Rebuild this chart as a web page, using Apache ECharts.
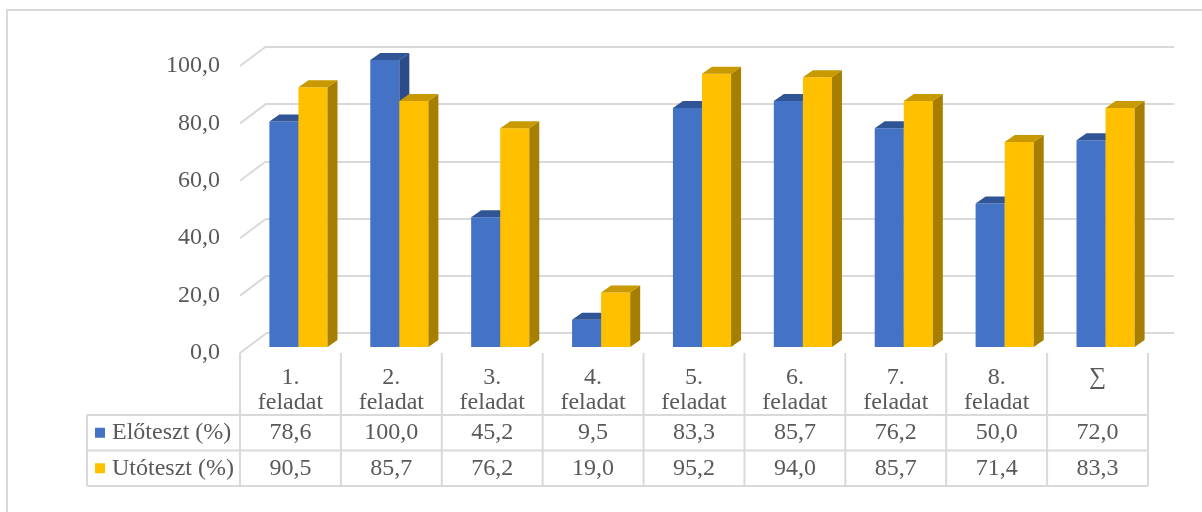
<!DOCTYPE html>
<html>
<head>
<meta charset="utf-8">
<script src="https://cdn.jsdelivr.net/npm/echarts@6/dist/echarts.min.js"></script>
<style>
html, body { margin: 0; padding: 0; background: #fff; }
#main { width: 1202px; height: 512px; }
</style>
</head>
<body>
<div id="main"></div>
<script>
// adatok
var CATEGORIES = ['1. feladat', '2. feladat', '3. feladat', '4. feladat', '5. feladat',
                  '6. feladat', '7. feladat', '8. feladat', '∑'];
var SERIES_NAMES = ['Előteszt (%)', 'Utóteszt (%)'];
var PRE = [78.6, 100.0, 45.2, 9.5, 83.3, 85.7, 76.2, 50.0, 72.0];
var POST = [90.5, 85.7, 76.2, 19.0, 95.2, 94.0, 85.7, 71.4, 83.3];
var Y_TICKS = [0, 20, 40, 60, 80, 100];

var TEXT_COLOR = '#595959';
var LINE_COLOR = '#d9d9d9';
var FONT = '"Liberation Serif", "Times New Roman", serif';
var COLORS = [
    ['#4472C4', '#2F5597', '#2B4C88'],
    ['#FFC000', '#C99A00', '#A67F00']
];

// 3D eltolások
var WALL_DX = 26, WALL_DY = -19.5;
var BAR_SHIFT_X = 8, BAR_SHIFT_Y = -6;
var DEPTH_DX = 10, DEPTH_DY = -7;

function fmt(v) {
    return v.toFixed(1).replace('.', ',');
}

function barRender(k) {
    var c = COLORS[k];
    return function (params, api) {
        var i = api.value(0), v = api.value(1);
        var top = api.coord([i, v]);
        var base = api.coord([i, 0]);
        var band = api.size([1, 0])[0];
        var w = band * 0.288;
        var x0 = top[0] - w + k * w + BAR_SHIFT_X;
        var x1 = x0 + w;
        var yt = top[1] + BAR_SHIFT_Y, yb = base[1] + BAR_SHIFT_Y;
        return {
            type: 'group',
            children: [
                {type: 'rect', shape: {x: x0, y: yt, width: w, height: yb - yt}, style: {fill: c[0]}},
                {type: 'polygon', shape: {points: [[x0, yt], [x0 + DEPTH_DX, yt + DEPTH_DY], [x1 + DEPTH_DX, yt + DEPTH_DY], [x1, yt]]}, style: {fill: c[1]}},
                {type: 'polygon', shape: {points: [[x1, yt], [x1 + DEPTH_DX, yt + DEPTH_DY], [x1 + DEPTH_DX, yb + DEPTH_DY], [x1, yb]]}, style: {fill: c[2]}}
            ]
        };
    };
}

window.addEventListener('load', function () {
    var chart = echarts.init(document.getElementById('main'));

    var option = {
        animation: false,
        grid: [
            {left: 240, right: 54, top: 66, bottom: 159},   // elülső sík
            {left: 266, right: 28, top: 47, bottom: 179}    // hátsó fal
        ],
        xAxis: [
            {
                type: 'category', gridIndex: 0, data: CATEGORIES,
                axisLine: {show: false}, axisTick: {show: false},
                axisLabel: {
                    color: TEXT_COLOR, fontFamily: FONT, fontSize: 24,
                    lineHeight: 25, margin: 12, verticalAlign: 'top',
                    formatter: function (s) { return s.replace(' ', '\n'); }
                }
            },
            {type: 'value', gridIndex: 1, min: 0, max: 1, show: false}
        ],
        yAxis: [
            {
                type: 'value', gridIndex: 0, min: 0, max: 100, interval: 20,
                axisLine: {show: false}, axisTick: {show: false}, splitLine: {show: false},
                axisLabel: {color: TEXT_COLOR, fontFamily: FONT, fontSize: 24, margin: 20, formatter: fmt}
            },
            {
                type: 'value', gridIndex: 1, min: 0, max: 100, interval: 20,
                axisLine: {show: false}, axisTick: {show: false}, axisLabel: {show: false},
                splitLine: {lineStyle: {color: LINE_COLOR, width: 2}}
            }
        ],
        series: [
            {
                // bal oldali ferde rácsvonalak
                type: 'custom', xAxisIndex: 0, yAxisIndex: 0, silent: true, z: 1,
                data: Y_TICKS.map(function (t) { return [0, t]; }),
                renderItem: function (params, api) {
                    var p = api.coord([0, api.value(1)]);
                    var x = params.coordSys.x;
                    return {
                        type: 'line',
                        shape: {x1: x, y1: p[1], x2: x + WALL_DX, y2: p[1] + WALL_DY},
                        style: {stroke: LINE_COLOR, lineWidth: 2}
                    };
                }
            },
            {
                name: SERIES_NAMES[0], type: 'custom', xAxisIndex: 0, yAxisIndex: 0, z: 2,
                data: PRE.map(function (v, i) { return [i, v]; }),
                renderItem: barRender(0)
            },
            {
                name: SERIES_NAMES[1], type: 'custom', xAxisIndex: 0, yAxisIndex: 0, z: 3,
                data: POST.map(function (v, i) { return [i, v]; }),
                renderItem: barRender(1)
            }
        ]
    };
    chart.setOption(option);

    // adattábla
    var xs = CATEGORIES.map(function (c, i) { return chart.convertToPixel({xAxisIndex: 0}, i); });
    var band = xs[1] - xs[0];
    var axisY = chart.convertToPixel({yAxisIndex: 0}, 0);
    var tableLeft = 87, rowTop = 415, rowH = 35.5;
    var tableRight = xs[xs.length - 1] + band / 2;
    var bottom = rowTop + 2 * rowH;
    var g = [];
    function line(x1, y1, x2, y2) {
        g.push({type: 'line', shape: {x1: x1, y1: y1, x2: x2, y2: y2},
                style: {stroke: LINE_COLOR, lineWidth: 2}, z: 10});
    }
    for (var r = 0; r <= 2; r++) line(tableLeft, rowTop + r * rowH, tableRight, rowTop + r * rowH);
    line(tableLeft, rowTop, tableLeft, bottom);
    for (var i = 0; i <= xs.length; i++) {
        var ex = (i < xs.length ? xs[i] : xs[i - 1] + band) - band / 2;
        line(ex, axisY, ex, bottom);
    }
    [PRE, POST].forEach(function (arr, k) {
        var cy = rowTop + k * rowH + rowH / 2;
        g.push({type: 'rect', shape: {x: 95, y: cy - 5, width: 10, height: 10},
                style: {fill: COLORS[k][0]}, z: 10});
        g.push({type: 'text', x: 112, y: cy, z: 10,
                style: {text: SERIES_NAMES[k], fill: TEXT_COLOR, font: '24px ' + FONT,
                        textAlign: 'left', textVerticalAlign: 'middle'}});
        arr.forEach(function (v, i) {
            g.push({type: 'text', x: xs[i], y: cy, z: 10,
                    style: {text: fmt(v), fill: TEXT_COLOR, font: '24px ' + FONT,
                            textAlign: 'center', textVerticalAlign: 'middle'}});
        });
    });
    // külső keret
    g.push({type: 'rect', shape: {x: 7, y: 10, width: 1300, height: 600},
            style: {fill: 'none', stroke: LINE_COLOR, lineWidth: 2}, z: 0});
    chart.setOption({graphic: g});
}, false);
</script>
</body>
</html>
